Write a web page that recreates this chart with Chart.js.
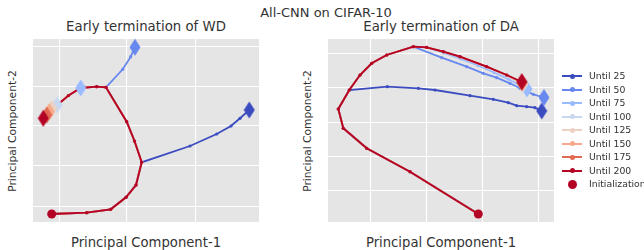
<!DOCTYPE html>
<html>
<head>
<meta charset="utf-8">
<script src="https://cdn.jsdelivr.net/npm/chart.js@4.4.0/dist/chart.umd.min.js"></script>
<style>
  body { margin: 0; width: 644px; height: 250px; background: #fff; position: relative; overflow: hidden;
         font-family: "DejaVu Sans", sans-serif; color: #333; }
  .txt { position: absolute; white-space: nowrap; transform: translate(-50%, -50%); line-height: 1; }
  .ylab { transform: translate(-50%, -50%) rotate(-90deg); }
  .panel { position: absolute; top: 29px; width: 246px; height: 203px; }
  .leg { position: absolute; left: 562px; height: 12px; font-size: 9.3px; line-height: 12px; }
  .leg .sym { position: absolute; left: 0; top: 5px; width: 20px; height: 2px; }
  .leg .dot { position: absolute; left: 8px; top: -1.5px; width: 5px; height: 5px; border-radius: 50%; }
  .leg .lab { position: absolute; left: 27px; top: 0; white-space: nowrap; }
</style>
</head>
<body>

<div class="txt" style="left:326px; top:12px; font-size:13px;">All-CNN on CIFAR-10</div>
<div class="txt" style="left:146px; top:27px; font-size:13.3px;">Early termination of WD</div>
<div class="txt" style="left:441px; top:27px; font-size:13.3px;">Early termination of DA</div>
<div class="txt" style="left:146px; top:243px; font-size:13.2px;">Principal Component-1</div>
<div class="txt" style="left:441px; top:243px; font-size:13.2px;">Principal Component-1</div>
<div class="txt ylab" style="left:13px; top:131px; font-size:10.7px;">Principal Component-2</div>
<div class="txt ylab" style="left:308px; top:131px; font-size:10.7px;">Principal Component-2</div>

<div class="panel" style="left:23px;"><canvas id="chart-wd" width="246" height="203"></canvas></div>
<div class="panel" style="left:318px;"><canvas id="chart-da" width="246" height="203"></canvas></div>
<div id="legend"></div>

<script>
  /* ===================== DATA ===================== */

  const untilLabels = ['Until 25', 'Until 50', 'Until 75', 'Until 100', 'Until 125', 'Until 150', 'Until 175', 'Until 200'];
  const untilColors = ['#3b4cc0', '#6788ee', '#9abbff', '#c9d7f0', '#edd1c2', '#f7a889', '#e26952', '#b40426'];
  const initColor = '#b40426';

  // weight decay panel: full trajectory (until 200) and the branches leaving it
  const wdPath = [
    [51.7, 214], [86.7, 212.7], [110.7, 209.3], [126, 197.3], [136, 185], [141.7, 162.3],
    [134.5, 141], [126.7, 121.7], [106, 87.3], [96.7, 86.7], [80.7, 88], [68.5, 95.5],
    [57.3, 105], [51.7, 108.5], [49.3, 111.7], [46.7, 115], [43.3, 118.3]
  ];
  const wdTail25 = [[190, 146], [216.7, 134], [231, 126], [240, 118.3], [249.3, 110]];
  const wdTail50 = [[122.7, 69.3], [130.7, 56.7], [135, 47.3]];
  const wdTails = [wdTail25, wdTail50, [], [], [], [], [], []];
  const wdBranchAt = [5, 8, 10, 12, 13, 14, 15, 16];

  const wdRangeX = [33, 259];
  const wdRangeY = [39, 222];
  const wdGridX = [60, 127, 196];
  const wdGridY = [46.5, 86.5, 126, 166, 206.5];

  // data augmentation panel
  const daPath = [
    [478.3, 214], [410, 171.7], [366.7, 148.3], [343.3, 128.3], [338.3, 109], [349.3, 90],
    [360, 75], [371.7, 63.3], [386.7, 55], [413.3, 46.7], [426.7, 47.3], [443.3, 51.7],
    [460, 56.7], [486.7, 66.7], [506.7, 75], [521.7, 81.7]
  ];
  const daTail25 = [[387.3, 86.7], [418.3, 88.3], [435, 90], [470, 95.7], [493.3, 99.3], [508.3, 102.7],
                    [516.7, 105.7], [526.7, 106.7], [535, 107.7], [541.7, 111]];
  const daTail50 = [[441.7, 57.7], [466.7, 66.7], [483.3, 73.3], [496.7, 77.7], [510, 83.3], [520, 88.3],
                    [533.3, 94.3], [544, 97.5]];
  const daTail75 = [[444, 53], [461, 59], [478, 65.5], [494, 72.5], [509, 79.5], [520, 85.5], [527, 89]];
  const daTail100 = [[507, 76.5], [523, 84.5]];
  const daTail125 = [[522.5, 83.6]];
  const daTail150 = [[522.2, 83]];
  const daTail175 = [[522, 82.3]];
  const daTails = [daTail25, daTail50, daTail75, daTail100, daTail125, daTail150, daTail175, []];
  const daBranchAt = [5, 9, 10, 13, 14, 14, 14, 15];

  const daRangeX = [328, 554];
  const daRangeY = [39, 222];
  const daGridX = [371, 427, 483, 539];
  const daGridY = [53.5, 88, 122.5, 157, 191];

  /* ===================== HELPERS ===================== */

  function thinDiamond(color) {
    let c = document.createElement('canvas');
    c.width = 12;
    c.height = 18;
    let g = c.getContext('2d');
    g.fillStyle = color;
    g.beginPath();
    g.moveTo(6, 0.5);
    g.lineTo(11.5, 9);
    g.lineTo(6, 17.5);
    g.lineTo(0.5, 9);
    g.closePath();
    g.fill();
    return c;
  }

  let diamonds = untilColors.map(thinDiamond);

  const panelBg = {
    id: 'panelBg',
    beforeDraw(chart) {
      let { ctx, chartArea: a } = chart;
      ctx.save();
      ctx.fillStyle = '#e5e5e5';
      ctx.fillRect(a.left, a.top, a.width, a.height);
      ctx.restore();
    }
  };

  let toXY = pts => pts.map(([x, y]) => ({ x, y }));

  function trajectoryChart(canvas, path, tails, branchAt, rangeX, rangeY, gridX, gridY) {
    let runs = untilLabels.map((_, i) => path.slice(0, branchAt[i] + 1).concat(tails[i]));

    let lines = runs.map((run, i) => ({
      label: untilLabels[i],
      data: toXY(run),
      showLine: true,
      borderColor: untilColors[i],
      backgroundColor: untilColors[i],
      borderWidth: 1.8,
      pointRadius: 1.6,
      pointBorderWidth: 0,
      order: 30 - i,
      clip: false
    }));

    let ends = {
      label: 'ends',
      data: toXY(runs.map(run => run[run.length - 1])),
      pointStyle: ctx => diamonds[ctx.dataIndex],
      pointRadius: 5,
      order: 2,
      clip: false
    };

    let init = {
      label: 'Initialization',
      data: toXY([path[0]]),
      backgroundColor: initColor,
      borderColor: initColor,
      pointRadius: 4.5,
      pointBorderWidth: 0,
      order: 1,
      clip: false
    };

    let axis = (range, grid, reverse) => ({
      type: 'linear',
      min: range[0],
      max: range[1],
      reverse,
      ticks: { display: false },
      grid: { color: '#ffffff', lineWidth: 1.1, drawTicks: false },
      border: { display: false },
      afterBuildTicks: s => { s.ticks = grid.map(v => ({ value: v })); }
    });

    return new Chart(canvas.getContext('2d'), {
      type: 'scatter',
      data: { datasets: [...lines, ends, init] },
      options: {
        responsive: false,
        animation: false,
        events: [],
        layout: { padding: 10, autoPadding: false },
        plugins: { legend: { display: false }, tooltip: { enabled: false } },
        scales: { x: axis(rangeX, gridX, false), y: axis(rangeY, gridY, true) }
      },
      plugins: [panelBg]
    });
  }

  /* ===================== CHARTS ===================== */

  trajectoryChart(document.getElementById('chart-wd'), wdPath, wdTails, wdBranchAt, wdRangeX, wdRangeY, wdGridX, wdGridY);
  trajectoryChart(document.getElementById('chart-da'), daPath, daTails, daBranchAt, daRangeX, daRangeY, daGridX, daGridY);

  /* ===================== LEGEND ===================== */

  let legend = document.getElementById('legend');
  let legendItems = untilLabels.map((label, i) => ({ label, color: untilColors[i], line: true }));
  legendItems.push({ label: 'Initialization', color: initColor, line: false });

  legendItems.forEach((item, i) => {
    let row = document.createElement('div');
    row.className = 'leg';
    row.style.top = (70 + i * 13.5) + 'px';
    let sym = document.createElement('span');
    sym.className = 'sym';
    let dot = document.createElement('span');
    dot.className = 'dot';
    dot.style.background = item.color;
    if (item.line) {
      sym.style.background = item.color;
    } else {
      dot.style.width = dot.style.height = '9px';
      dot.style.left = '6px';
      dot.style.top = '-3.5px';
    }
    sym.append(dot);
    let lab = document.createElement('span');
    lab.className = 'lab';
    lab.textContent = item.label;
    row.append(sym, lab);
    legend.append(row);
  });
</script>
</body>
</html>
